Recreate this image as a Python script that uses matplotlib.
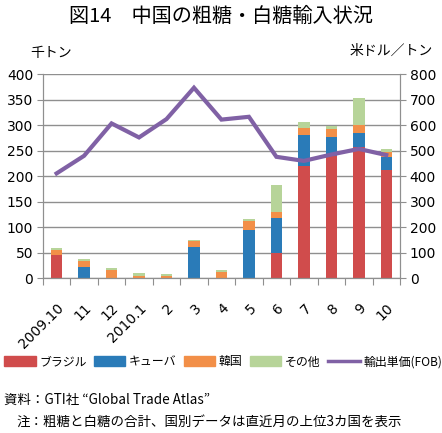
import numpy as np
import matplotlib
matplotlib.use("Agg")
import matplotlib.pyplot as plt
from matplotlib.patches import Patch
from matplotlib.lines import Line2D

plt.rcParams['font.family'] = ['Noto Sans CJK JP', 'DejaVu Sans']

months = ["2009.10", "11", "12", "2010.1", "2", "3", "4", "5", "6", "7", "8", "9", "10"]
brazil = [46, 0, 0, 0, 0, 0, 0, 0, 49, 221, 240, 257, 212]
cuba = [0, 22, 0, 0, 0, 61, 0, 95, 69, 60, 37, 29, 26]
korea = [10, 13, 17, 5, 5, 12, 12, 17, 12, 15, 17, 15, 10]
other = [4, 3, 3, 5, 3, 3, 5, 5, 54, 10, 5, 52, 6]
price = [412, 481, 608, 553, 625, 748, 623, 634, 477, 461, 486, 508, 484]

c_red = "#d04c4c"
c_blue = "#2a7bb8"
c_orange = "#f28f48"
c_green = "#b7d499"
c_purple = "#8061a5"
grid_c = "#8f8f8f"

fig = plt.figure(figsize=(4.42, 4.33), dpi=100)
ax = fig.add_axes([0.097, 0.357, 0.808, 0.471])
ax2 = ax.twinx()

x = np.arange(len(months))
w = 0.42
b1 = np.array(brazil)
b2 = b1 + np.array(cuba)
b3 = b2 + np.array(korea)
ax.bar(x, brazil, w, color=c_red, zorder=2)
ax.bar(x, cuba, w, bottom=b1, color=c_blue, zorder=2)
ax.bar(x, korea, w, bottom=b2, color=c_orange, zorder=2)
ax.bar(x, other, w, bottom=b3, color=c_green, zorder=2)

ax2.plot(x, price, color=c_purple, lw=3, solid_joinstyle='miter', zorder=3)

ax.set_xlim(-0.5, len(months) - 0.5)
ax.set_ylim(0, 400)
ax2.set_ylim(0, 800)
ax.set_yticks(np.arange(0, 401, 50))
ax2.set_yticks(np.arange(0, 801, 100))
ax.yaxis.grid(True, color=grid_c, lw=1)
ax.set_axisbelow(True)

# ticks at category borders, labels at category centres
ax.set_xticks(np.arange(-0.5, len(months), 1), minor=False)
ax.set_xticklabels([])
ax.set_xticks(x, minor=True)
ax.set_xticklabels(months, minor=True, rotation=45, ha='right', va='top',
                   rotation_mode='anchor', fontsize=10, family='DejaVu Sans')
ax.tick_params(axis='x', which='minor', length=0, pad=16)
ax.tick_params(axis='x', which='major', length=5, color=grid_c)

for a in (ax, ax2):
    for s in a.spines.values():
        s.set_color(grid_c)
    a.spines['top'].set_visible(False)
    a.tick_params(axis='y', length=4, color=grid_c, labelsize=10, pad=3)
for lab in ax.get_yticklabels() + ax2.get_yticklabels():
    lab.set_family('DejaVu Sans')

fig.text(0.5, 0.962, "図14　中国の粗糖・白糖輸入状況", ha='center', va='center', fontsize=14.5)
fig.text(0.068, 0.878, "千トン", ha='left', va='center', fontsize=10)
fig.text(0.98, 0.882, "米ドル／トン", ha='right', va='center', fontsize=10)

handles = [Patch(color=c_red), Patch(color=c_blue), Patch(color=c_orange),
           Patch(color=c_green), Line2D([], [], color=c_purple, lw=2.5)]
labels = ["ブラジル", "キューバ", "韓国", "その他", "輸出単価(FOB)"]
fig.legend(handles, labels, loc='center', bbox_to_anchor=(0.505, 0.164), ncol=5,
           frameon=False, fontsize=8.6, handlelength=2.6, handleheight=0.9,
           handletextpad=0.3, columnspacing=0.65, borderaxespad=0, borderpad=0)

fig.text(0.01, 0.076, "資料：GTI社 “Global Trade Atlas”", ha='left', va='center', fontsize=9.7)
fig.text(0.038, 0.026, "注：粗糖と白糖の合計、国別データは直近月の上位3カ国を表示",
         ha='left', va='center', fontsize=9.7)

fig.savefig("out.png", dpi=100)
